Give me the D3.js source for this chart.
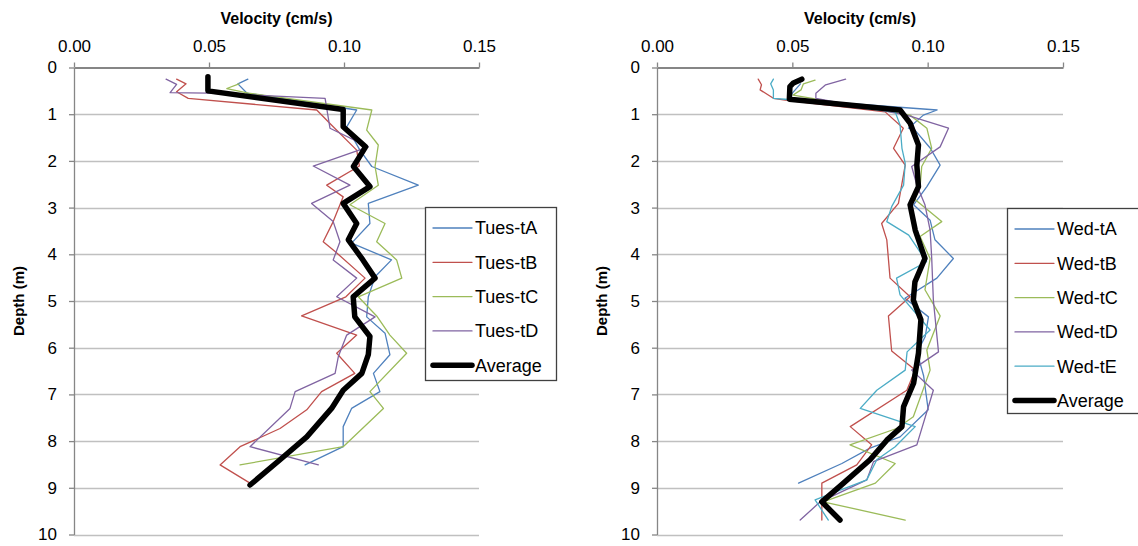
<!DOCTYPE html>
<html>
<head>
<meta charset="utf-8">
<script src="https://d3js.org/d3.v7.min.js"></script>
<style>
  body { margin: 0; background: #fff; }
  text { font-family: "Liberation Sans", Arial, sans-serif; fill: #000; }
</style>
</head>
<body>
<svg id="chart" width="1138" height="546"></svg>
<script>
// [depth (m), velocity (cm/s)]
var tuesA = [[0.25,0.0644],[0.35,0.0607],[0.55,0.0641],[0.91,0.1047],[1.27,0.1010],[1.77,0.1059],[2.12,0.1103],[2.52,0.1275],[2.91,0.1090],[3.34,0.1096],[3.76,0.1028],[4.12,0.1176],[4.48,0.1115],[4.91,0.1090],[5.34,0.1084],[5.69,0.1152],[6.15,0.1170],[6.55,0.1109],[6.94,0.1133],[7.3,0.1028],[7.69,0.0997],[8.12,0.0997],[8.51,0.0856]];
var tuesB = [[0.25,0.038],[0.35,0.0415],[0.52,0.038],[0.66,0.0423],[0.91,0.0899],[1.2,0.0948],[1.77,0.1047],[2.11,0.1057],[2.52,0.0936],[2.77,0.0997],[3.3,0.0960],[3.73,0.0923],[3.94,0.0967],[4.51,0.1078],[4.91,0.1007],[5.32,0.0843],[5.73,0.1047],[6.12,0.0973],[6.55,0.1040],[6.94,0.0917],[7.33,0.0862],[7.73,0.0763],[8.12,0.0615],[8.51,0.0541],[8.9,0.0652]];
var tuesC = [[0.35,0.0611],[0.45,0.0566],[0.55,0.0646],[0.91,0.1103],[1.34,0.1084],[1.66,0.1127],[2.12,0.1115],[2.52,0.1127],[2.94,0.1022],[3.34,0.1152],[3.73,0.1121],[4.12,0.1195],[4.51,0.1214],[4.91,0.1053],[5.32,0.1121],[5.73,0.117],[6.12,0.1232],[6.94,0.1096],[7.3,0.1146],[8.12,0.0997],[8.51,0.0615]];
var tuesD = [[0.25,0.0341],[0.36,0.0380],[0.54,0.0356],[0.55,0.0497],[0.66,0.0930],[1.3,0.0948],[1.7,0.1090],[2.11,0.0886],[2.52,0.1022],[2.91,0.0880],[3.3,0.0960],[3.73,0.0985],[4.12,0.0960],[4.51,0.1047],[4.91,0.0973],[5.34,0.1115],[5.73,0.1010],[6.19,0.0979],[6.55,0.0967],[6.94,0.0819],[7.3,0.0800],[8.12,0.0652],[8.51,0.0905]];
var tuesAvg = [[0.2,0.0496],[0.5,0.0496],[0.9,0.0997],[1.27,0.0997],[1.7,0.108],[2.12,0.1035],[2.55,0.1096],[2.91,0.0997],[3.34,0.1047],[3.69,0.1016],[4.12,0.107],[4.51,0.1115],[4.91,0.1034],[5.34,0.104],[5.76,0.1096],[6.15,0.109],[6.55,0.1066],[6.91,0.0997],[7.3,0.0954],[7.91,0.0862],[8.4,0.0763],[8.94,0.0652]];

var wedA = [[0.35,0.053],[0.55,0.050],[0.68,0.049],[0.91,0.1035],[1.02,0.0984],[1.3,0.0929],[1.34,0.0953],[1.73,0.1010],[2.09,0.1046],[2.55,0.0997],[2.94,0.0948],[3.27,0.1009],[3.69,0.1027],[4.09,0.1095],[4.51,0.1034],[4.94,0.0916],[5.34,0.1003],[5.76,0.0991],[6.1,0.0961],[6.6,0.0985],[7.33,0.1002],[7.91,0.0898],[8.15,0.0787],[8.48,0.0683],[8.9,0.0523]];
var wedB = [[0.25,0.0374],[0.37,0.0386],[0.48,0.0381],[0.66,0.0430],[0.7,0.0473],[0.95,0.0843],[1.3,0.0910],[1.73,0.0874],[2.09,0.0917],[2.91,0.0892],[3.34,0.0830],[3.69,0.0849],[4.51,0.0861],[4.91,0.0935],[5.32,0.0855],[6.07,0.0867],[6.48,0.0954],[6.91,0.0923],[7.69,0.0714],[8.08,0.0793],[8.51,0.0738],[8.9,0.0609],[9.69,0.0609]];
var wedC = [[0.27,0.0584],[0.35,0.0541],[0.48,0.0532],[0.59,0.0503],[1.02,0.0935],[1.3,0.0997],[1.73,0.1015],[2.12,0.0978],[2.55,0.0972],[2.77,0.0941],[3.3,0.1052],[3.62,0.0972],[4.09,0.1009],[4.76,0.0990],[5.32,0.1046],[6.05,0.0997],[6.48,0.1009],[7.48,0.0947],[7.73,0.0885],[8.08,0.0713],[8.48,0.0880],[8.9,0.0807],[9.3,0.0614],[9.69,0.0917]];
var wedD = [[0.25,0.0697],[0.37,0.0623],[0.55,0.0587],[0.66,0.0587],[1.02,0.0923],[1.3,0.1077],[1.7,0.1046],[2.12,0.0941],[2.52,0.0960],[2.94,0.0990],[3.48,0.1009],[4.09,0.1015],[4.98,0.1021],[6.09,0.1040],[6.48,0.0941],[6.91,0.1021],[8.08,0.0960],[8.44,0.0800],[8.83,0.0775],[9.3,0.0603],[9.69,0.0529]];
var wedE = [[0.25,0.0430],[0.35,0.0420],[0.48,0.0430],[0.66,0.0430],[0.68,0.0473],[0.95,0.0880],[1.23,0.0898],[1.73,0.0905],[2.05,0.0917],[2.52,0.0911],[2.98,0.0867],[3.3,0.0849],[3.59,0.0930],[4.16,0.0996],[4.51,0.0885],[4.87,0.0898],[5.62,0.1009],[6.09,0.0924],[6.48,0.0917],[6.91,0.0812],[7.3,0.0751],[7.69,0.0954],[8.12,0.0880],[8.4,0.0812],[8.83,0.0775],[9.26,0.0584],[9.69,0.0633]];
var wedAvg = [[0.25,0.0535],[0.33,0.0504],[0.41,0.0491],[0.68,0.0489],[0.91,0.0898],[1.19,0.0935],[1.66,0.0966],[2.09,0.0960],[2.55,0.0966],[2.94,0.0935],[3.48,0.0954],[4.09,0.0990],[4.59,0.0953],[4.98,0.0947],[5.4,0.0975],[6.12,0.0966],[6.76,0.0948],[7.26,0.0911],[7.69,0.0905],[7.98,0.0849],[8.4,0.0787],[8.9,0.0689],[9.3,0.0609],[9.69,0.0676]];

var tuesNames = ["Tues-tA", "Tues-tB", "Tues-tC", "Tues-tD", "Average"];
var wedNames = ["Wed-tA", "Wed-tB", "Wed-tC", "Wed-tD", "Wed-tE", "Average"];
var velTicks = [0, 0.05, 0.10, 0.15];
var depthTicks = d3.range(0, 11);
var colors = ["#4f81bd", "#c0504d", "#9bbb59", "#8064a2", "#4bacc6"];

var svg = d3.select("#chart");

var makepanel = function(opt) {
  var x = d3.scaleLinear().domain([0, 0.15]).range([opt.x0, opt.x1]);
  var y = d3.scaleLinear().domain([0, 10]).range([67.5, 534.5]);
  var g = svg.append("g");

  // gridlines
  g.selectAll("line.grid")
    .data(depthTicks.slice(1))
    .enter().append("line")
    .attr("x1", x(0)).attr("x2", x(0.15))
    .attr("y1", function(d) { return Math.round(y(d)) + 0.5; })
    .attr("y2", function(d) { return Math.round(y(d)) + 0.5; })
    .attr("stroke", "#c0c0c0").attr("stroke-width", 1.3);

  var xAxis = d3.axisTop(x).tickValues(velTicks).tickFormat(d3.format(".2f"))
    .tickSize(5).tickSizeOuter(0).tickPadding(11);
  var yAxis = d3.axisLeft(y).tickValues(depthTicks).tickFormat(d3.format("d"))
    .tickSize(5).tickSizeOuter(0).tickPadding(12);

  var ya = g.append("g").attr("transform", "translate(" + x(0) + ",0)").call(yAxis);
  var xa = g.append("g").attr("transform", "translate(0," + y(0) + ")").call(xAxis);
  [xa, ya].forEach(function(a) {
    a.selectAll("path, line").attr("stroke", "#868686").attr("stroke-width", 1.3);
    a.selectAll("text").style("font-size", "17px").attr("fill", "#000");
  });
  xa.select(".domain").attr("stroke-width", 2);

  var line = d3.line()
    .x(function(d) { return x(d[1]); })
    .y(function(d) { return y(d[0]); });

  opt.series.forEach(function(s, i) {
    var avg = i == opt.series.length - 1;
    g.append("path")
      .datum(s)
      .attr("d", line)
      .attr("fill", "none")
      .attr("stroke", avg ? "#000" : colors[i])
      .attr("stroke-width", avg ? 5.5 : 1.3)
      .attr("stroke-linejoin", "round")
      .attr("stroke-linecap", "round");
  });

  // titles
  g.append("text")
    .attr("x", (x(0) + x(0.15)) / 2).attr("y", 24)
    .attr("text-anchor", "middle")
    .style("font-size", "16px").style("font-weight", "bold")
    .text("Velocity (cm/s)");
  g.append("text")
    .attr("transform", "translate(" + opt.ylab + "," + (y(5)) + ") rotate(-90)")
    .attr("text-anchor", "middle")
    .style("font-size", "15px").style("font-weight", "bold")
    .text("Depth (m)");

  // legend
  var lg = g.append("g").attr("transform", "translate(" + opt.lx + "," + opt.ly + ")");
  lg.append("rect")
    .attr("x", 0.5).attr("y", 0.5)
    .attr("width", opt.lw).attr("height", opt.lh)
    .attr("fill", "#fff").attr("stroke", "#404040").attr("stroke-width", 1.3);
  var item = lg.selectAll("g.item").data(opt.names).enter().append("g")
    .attr("transform", function(d, i) { return "translate(0," + (21 + i * 34.3) + ")"; });
  item.append("line")
    .attr("x1", 8).attr("x2", 47)
    .attr("stroke", function(d, i) { return i == opt.names.length - 1 ? "#000" : colors[i]; })
    .attr("stroke-width", function(d, i) { return i == opt.names.length - 1 ? 5.5 : 1.3; })
    .attr("stroke-linecap", "round");
  item.append("text")
    .attr("x", 50).attr("dy", "0.35em")
    .style("font-size", "18px")
    .text(function(d) { return d; });
};

makepanel({x0: 74, x1: 479, ylab: 24, series: [tuesA, tuesB, tuesC, tuesD, tuesAvg],
  names: tuesNames, lx: 425, ly: 207, lw: 131, lh: 173});
makepanel({x0: 657, x1: 1063, ylab: 607, series: [wedA, wedB, wedC, wedD, wedE, wedAvg],
  names: wedNames, lx: 1007, ly: 208, lw: 132, lh: 205});
</script>
</body>
</html>
